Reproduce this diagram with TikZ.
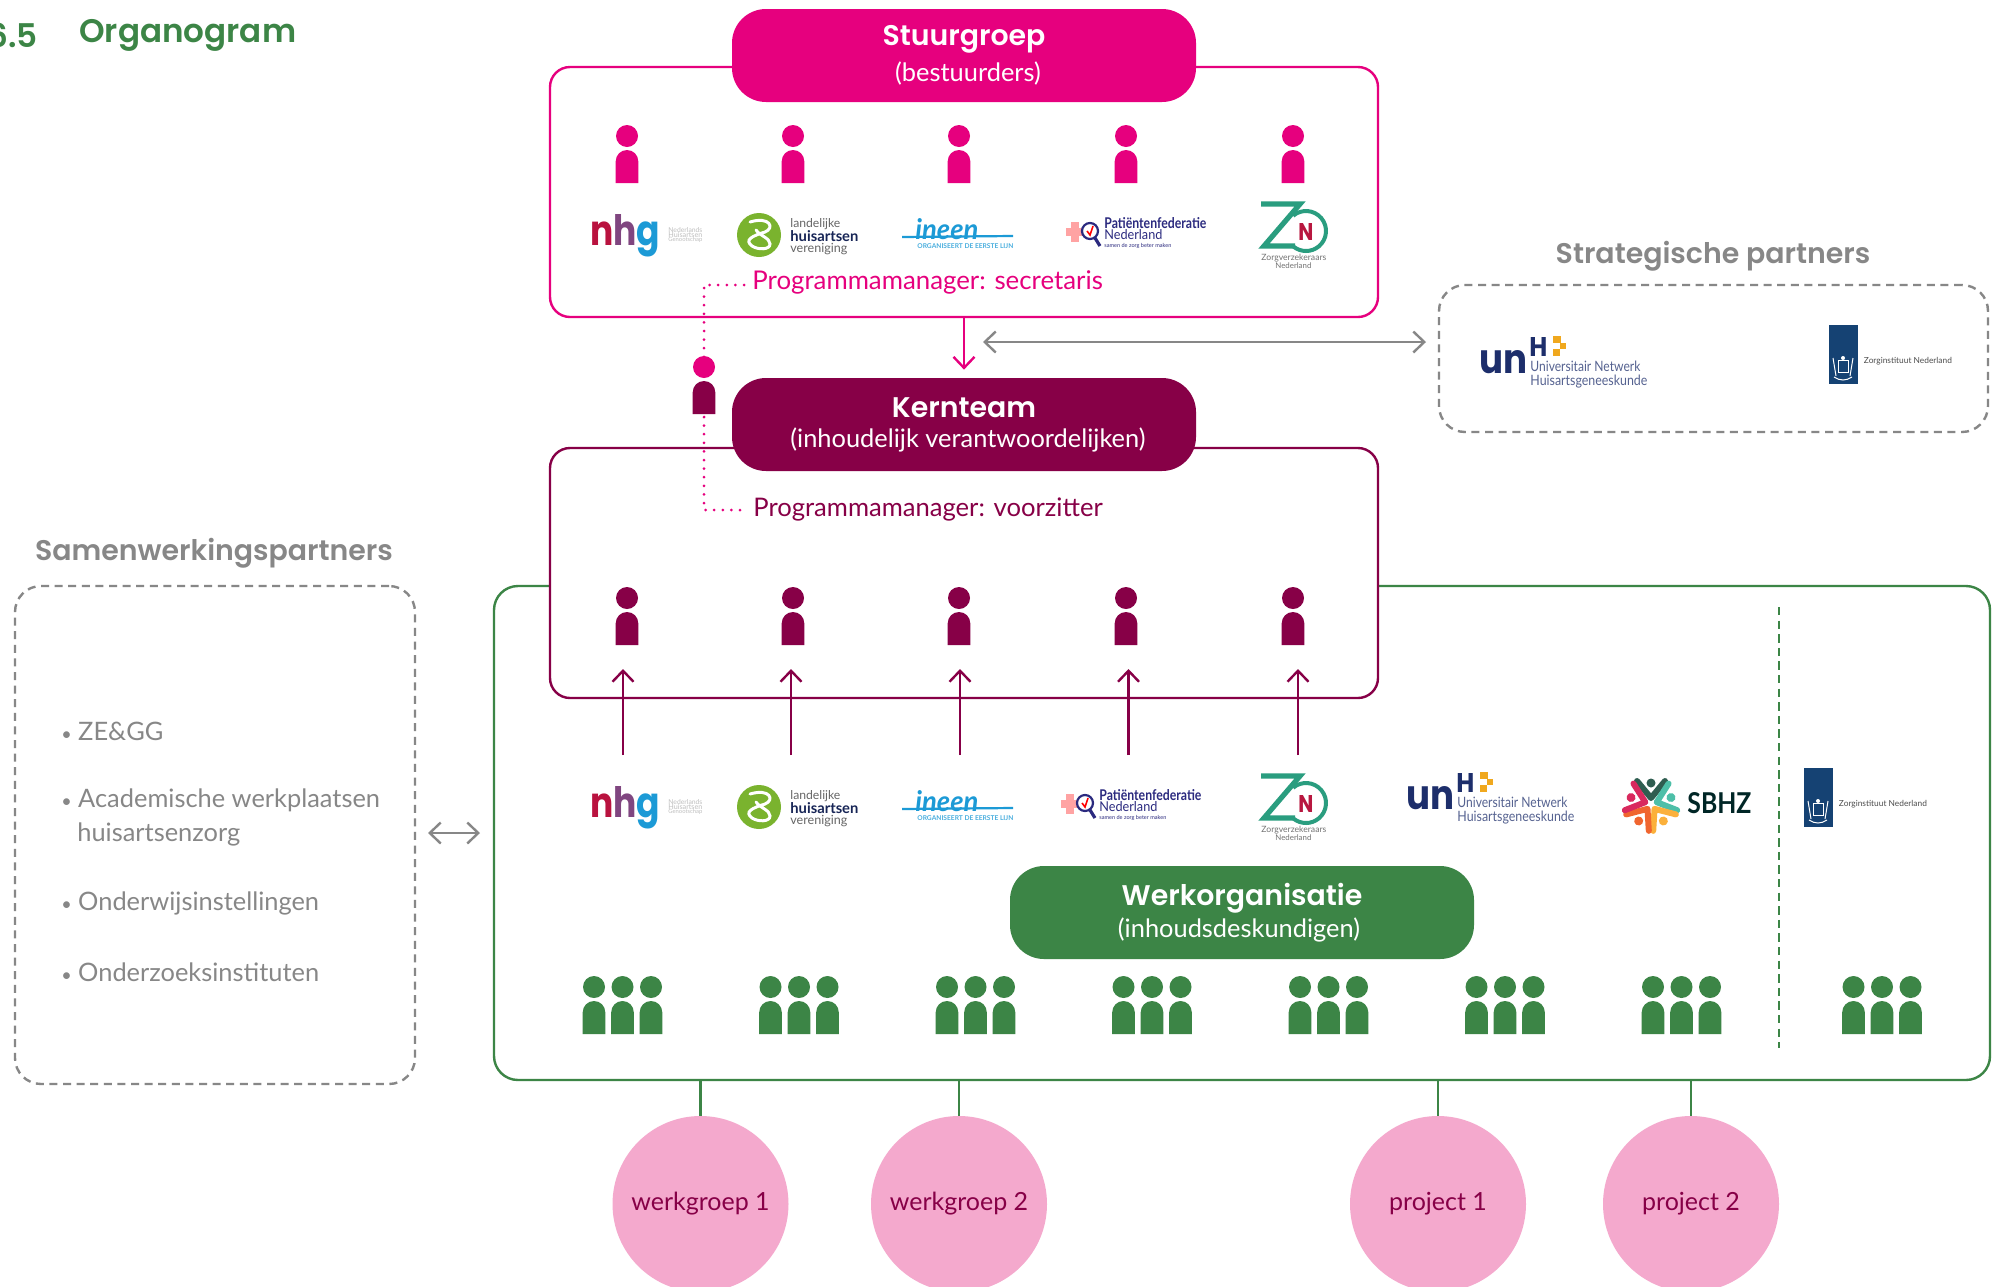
\documentclass[tikz,border=0pt]{standalone}
\usepackage{fontspec}
\usepackage{graphicx}
\usetikzlibrary{arrows.meta}
\setmainfont{Lato}
\newfontfamily\hd{Poppins SemiBold}
\newfontfamily\hb{Poppins}
\newfontfamily\lf{Lato}
\definecolor{cpink}{HTML}{E6007E}
\definecolor{cpurp}{HTML}{870047}
\definecolor{cgreen}{HTML}{3C8546}
\definecolor{cgrey}{HTML}{878787}
\definecolor{clight}{HTML}{F4A9CD}
\definecolor{cnavy}{HTML}{1D2E6B}
\definecolor{clhv}{HTML}{7AB32E}
\definecolor{cblue}{HTML}{1C9AD6}
\definecolor{cteal}{HTML}{2A9D7F}
\definecolor{cred}{HTML}{B8173F}
\definecolor{corange}{HTML}{F0A81E}
\definecolor{crijk}{HTML}{154273}
\definecolor{cpf}{HTML}{2B2A7F}
\newcount\lgc
% x y width colour fontswitch text
\newcommand{\lt}[6]{\global\advance\lgc 1
  \node[anchor=west,inner sep=0pt,text=#4] (lg\the\lgc) at (#1,#2) {\resizebox{\dimexpr #3pt/2\relax}{!}{#5\relax#6}};}
% condensed: x y width height colour fontswitch text
\newcommand{\ltn}[7]{\global\advance\lgc 1
  \node[anchor=west,inner sep=0pt,text=#5] (lg\the\lgc) at (#1,#2) {\resizebox{\dimexpr #3pt/2\relax}{\dimexpr #4pt/2\relax}{#6\relax#7}};}
\newcommand{\person}[4]{% x, head y, head colour, body colour
  \fill[#3] (#1,#2) circle [radius=11];
  \fill[#4] ({#1-11.3},{#2+47}) -- ({#1-11.3},{#2+25.3}) arc [start angle=180,end angle=360,radius=11.3] -- ({#1+11.3},{#2+47}) -- cycle;}
\newcommand{\group}[1]{%
  \person{#1-28.5}{987}{cgreen}{cgreen}\person{#1}{987}{cgreen}{cgreen}\person{#1+28.5}{987}{cgreen}{cgreen}}
\newcommand{\lgnhg}{%
  \ltn{590}{236}{70}{31}{black}{\hb\bfseries}{\textcolor{cred!80!purple}{n}\textcolor{violet!45!gray}{h}\textcolor{cblue}{g}}
  \lt{668}{230}{34}{black!25}{\lf}{Nederlands}
  \lt{668}{235}{34}{black!25}{\lf}{Huisartsen}
  \lt{668}{240}{34}{black!25}{\lf}{Genootschap}}
\newcommand{\lglhv}{%
  \fill[clhv] (759,235) circle [radius=22];
  \draw[white,line width=1.5pt,line cap=round] (750,222) .. controls (770,216) and (775,228) .. (765,232) .. controls (752,236) and (744,240) .. (752,246) .. controls (758,250) and (770,250) .. (770,244) .. controls (770,238) and (760,236) .. (756,230);
  \lt{790}{224}{50}{black!60}{\lf}{landelijke}
  \lt{790}{236}{68}{cnavy!80!black}{\lf\bfseries}{huisartsen}
  \lt{790}{249}{57}{black!60}{\lf}{vereniging}}
\newcommand{\lgineen}{%
  \ltn{915}{229}{63}{21}{cblue}{\lf\bfseries\itshape}{ineen}
  \draw[cblue,line width=1.1pt] (902,237) -- (1013,236);
  \lt{917}{246}{96}{cblue!80}{\lf\bfseries}{ORGANISEERT DE EERSTE LIJN}}
\newcommand{\lgpf}{%
  \fill[red!35!pink!70] (1066,228) rectangle (1085,236);
  \fill[red!35!pink!70] (1071,222) rectangle (1079,242);
  \draw[cpf,line width=1.1pt,fill=white] (1090,231) circle [radius=8];
  \draw[cpf,line width=1.6pt] (1095,238) -- (1100,246);
  \draw[red,line width=.8pt] (1087,231) -- (1090,235) -- (1093,226);
  \ltn{1104}{223}{102}{11}{cpf}{\lf\bfseries}{Patiëntenfederatie}
  \ltn{1104}{235}{58}{10}{cpf}{\lf}{Nederland}
  \lt{1104}{245.5}{67}{cpf}{\lf}{samen de zorg beter maken}}
\newcommand{\lgzn}{%
  \draw[cteal,line width=2.6pt] (1261,204) -- (1300,204) -- (1264,246) -- (1295,246);
  \draw[cteal,line width=2pt] (1306,231) ++(-130:20) arc [start angle=-130,end angle=130,radius=20];
  \ltn{1298}{232}{15}{17}{cred}{\hb\bfseries}{N}
  \lt{1261}{258}{65}{black!55}{\lf}{Zorgverzekeraars}
  \lt{1275}{266}{36}{black!55}{\lf}{Nederland}}
\newcommand{\lgunh}{%
  \ltn{1479}{362}{48}{23}{cnavy}{\hb\bfseries}{un}
  \ltn{1529}{346.5}{18}{19}{cnavy}{\hb\bfseries}{H}
  \fill[corange] (1553,336) rectangle (1561,343);
  \fill[corange] (1560,343) rectangle (1566,349);
  \fill[corange] (1553,349) rectangle (1560,356);
  \ltn{1530}{366}{110}{10.5}{cnavy!75}{\lf}{Universitair Netwerk}
  \ltn{1530}{382}{117}{10.5}{cnavy!75}{\lf}{Huisartsgeneeskunde}}
\newcommand{\lgzin}{%
  \fill[crijk] (1828.5,325) rectangle (1858,384);
  \draw[white,line width=.5pt] (1838,360) rectangle (1848,372);
  \draw[white,line width=.5pt] (1833,358) -- (1836,376);
  \draw[white,line width=.5pt] (1853,358) -- (1850,376);
  \draw[white,line width=.5pt] (1834,377) .. controls (1840,381) and (1846,381) .. (1852,377);
  \fill[white] (1843,358) circle [radius=2];
  \lt{1863.5}{361}{88}{black!70}{\lf}{Zorginstituut Nederland}}
\newcommand{\lgsbhz}{%
  \foreach \a/\c in {90/2F5D50,18/4DBFA8,-54/FBB03B,-126/F0652F,162/D9295E}{
    \definecolor{cc}{HTML}{\c}
    \begin{scope}[shift={(1651,804)},rotate=\a]
      \draw[cc,line width=3pt,line cap=round,line join=round] (23,14) -- (6,0) -- (23,-14);
      \fill[cc] (21,0) circle [radius=4.5];
    \end{scope}}
  \ltn{1687}{803}{64}{21}{black!70!teal}{\lf\bfseries}{SBHZ}}
\tikzset{
  framebox/.style={draw,rounded corners=10pt,line width=1.2pt,inner sep=0pt},
  dashbox/.style={draw=cgrey,dash pattern=on 4pt off 2.8pt,rounded corners=13pt,line width=1.2pt,inner sep=0pt},
  pill/.style={rounded corners=17pt,inner sep=0pt,minimum width=232pt,minimum height=46.5pt,text=white,align=center},
  blob/.style={circle,fill=clight,inner sep=0pt,minimum size=88pt,text=cpurp,font=\lf\fontsize{12.5}{14}\selectfont},
  lab/.style={inner sep=0pt,anchor=west},
  item/.style={inner sep=0pt,anchor=west,text=cgrey,font=\lf\fontsize{12.7}{15}\selectfont},
  head/.style={inner sep=0pt,text=cgrey,font=\hd\fontsize{14.2}{16}\selectfont}
}
\newcommand{\bul}{{\fontsize{9}{9}\selectfont •}\hspace{3.2pt}}
\newcommand{\ptitle}[1]{{\hd\fontsize{14.2}{16}\selectfont #1}}
\newcommand{\psub}[1]{{\lf\fontsize{12.7}{14}\selectfont #1}}
\begin{document}
\begin{tikzpicture}[x=0.5pt,y=-0.5pt]
\useasboundingbox (0,0) rectangle (1997,1286);
\clip (0,0) rectangle (1997,1286);
\fill[white] (0,0) rectangle (1997,1286);
% title
\node[inner sep=0pt,anchor=east,text=cgreen,font=\hd\fontsize{16.3}{18}\selectfont] (tnum) at (38,35) {6.5};
\node[inner sep=0pt,anchor=west,text=cgreen,font=\hd\fontsize{16.3}{18}\selectfont] (ttitle) at (79,35) {Organogram};
% frames
\node[framebox,draw=cgreen,rounded corners=12pt,minimum width=748pt,minimum height=247pt] (werkbox) at (1242,833) {};
\node[framebox,draw=cpurp,fill=white,minimum width=414pt,minimum height=125pt] (kernbox) at (964,573) {};
\node[framebox,draw=cpink,fill=white,minimum width=414pt,minimum height=125pt] (stuurbox) at (964,192) {};
\node[dashbox,minimum width=274.5pt,minimum height=73.5pt] (strbox) at (1713.5,358.5) {};
\node[dashbox,minimum width=200pt,minimum height=249pt] (sambox) at (215,835) {};
% vertical divider
\coordinate (dv1) at (1779,607);
\coordinate (dv2) at (1779,1048);
\draw[cgreen,line width=1.1pt,dash pattern=on 4.2pt off 2.6pt] (dv1) -- (dv2);
% pills
\node[pill,fill=cpink] (stuur) at (964,55.5) {\ptitle{Stuurgroep}\\[3.5pt]\psub{\hspace*{4pt}(bestuurders)}};
\node[pill,fill=cpurp] (kern) at (964,424.5) {\ptitle{Kernteam}\\[3pt]\psub{\hspace*{4pt}(inhoudelijk verantwoordelijken)}};
\node[pill,fill=cgreen] (werk) at (1242,912.5) {\ptitle{Werkorganisatie}\\[1.5pt]\psub{\hspace*{-3pt}(inhoudsdeskundigen)}};
% labels
\node[lab,text=cpink,font=\lf\fontsize{12.9}{14}\selectfont] (psec) at (752,282) {Programmamanager: secretaris};
\node[lab,text=cpurp,font=\lf\fontsize{12.8}{14}\selectfont] (pvoo) at (753,509) {Programmamanager: voorzitter};
\node[head] (hstr) at (1713,256) {Strategische partners};
\node[head] (hsam) at (214,553) {Samenwerkingspartners};
% dotted connector
\coordinate (dt1) at (744,285);
\coordinate (dtc1) at (704,285);
\coordinate (dtc2) at (704,510);
\coordinate (dt2) at (741,510);
\draw[cpink,line width=1.5pt,line cap=round,dash pattern=on 0pt off 4.3pt] (dt1) -- (dtc1) -- (dtc2) -- (dt2);
% persons
\foreach \x in {627,793,959,1126,1293}{\person{\x}{136}{cpink}{cpink}}
\foreach \x in {627,793,959,1126,1293}{\person{\x}{598}{cpurp}{cpurp}}
\person{704}{367}{cpink}{cpurp}
\foreach \x in {622.5,799,975.5,1152,1328.5,1505,1681.5,1882}{\group{\x}}
% arrows
\draw[cpink,line width=1.2pt,-{Straight Barb[length=5.5pt,width=10.5pt]}] (stuurbox.south) -- ([yshift=4pt]kern.north);
\coordinate (ga1) at (983,342);
\coordinate (ga2) at (1426,342);
\draw[cgrey,line width=1.2pt,{Straight Barb[length=5.5pt,width=10.5pt]}-{Straight Barb[length=5.5pt,width=10.5pt]}] (ga1) -- (ga2);
\coordinate (gb1) at (428,833);
\coordinate (gb2) at (480,833);
\draw[cgrey,line width=1.2pt,{Straight Barb[length=5.5pt,width=10.5pt]}-{Straight Barb[length=5.5pt,width=10.5pt]}] (gb1) -- (gb2);
\foreach \i/\x in {1/623,2/791,3/960,4/1128.5,5/1298}{
  \coordinate (aa\i) at (\x,755);
  \coordinate (ab\i) at (\x,669);
  \draw[cpurp,line width=1.2pt,-{Straight Barb[length=5.5pt,width=10.5pt]}] (aa\i) -- (ab\i);
}
% logos row 1
\lgnhg \lglhv \lgineen \lgpf \lgzn \lgunh \lgzin
% logos row 2
\begin{scope}[shift={(0,572)}] \lgnhg \lglhv \lgineen \end{scope}
\begin{scope}[shift={(-5,572)}] \lgpf \end{scope}
\begin{scope}[shift={(0,572)}] \lgzn \end{scope}
\begin{scope}[shift={(-73,436)}] \lgunh \end{scope}
\begin{scope}[shift={(-25,443)}] \lgzin \end{scope}
\lgsbhz
% list
\node[item] (l1) at (61,731) {\bul ZE\&GG};
\node[item] (l2) at (61,800) {\bul Academische werkplaatsen};
\node[item] (l2b) at (77,834) {huisartsenzorg};
\node[item] (l3) at (61,903) {\bul Onderwijsinstellingen};
\node[item] (l4) at (61,972) {\bul Onderzoeksinstituten};
% circles
\node[blob] (wg1) at (700.5,1204) {werkgroep 1};
\node[blob] (wg2) at (959,1204) {werkgroep 2};
\node[blob] (pr1) at (1438,1204) {project 1};
\node[blob] (pr2) at (1691,1204) {project 2};
\foreach \n in {wg1,wg2,pr1,pr2}{\draw[cgreen,line width=1.2pt] (\n.north) -- (\n.north |- werkbox.south);}
\end{tikzpicture}
\end{document}
